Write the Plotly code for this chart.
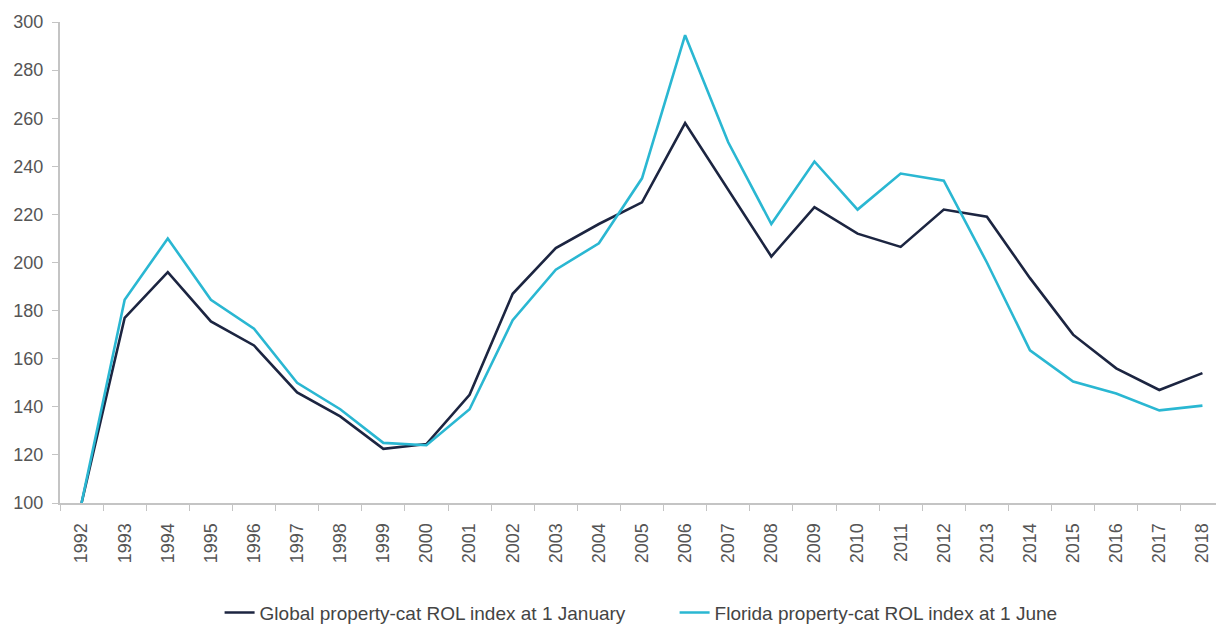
import plotly.graph_objects as go

years = [str(y) for y in range(1992, 2019)]
global_rol = [100, 177, 196, 175.5, 165.5, 146, 136, 122.5, 124.5, 145, 187, 206, 216, 225,
              258, 230, 202.5, 223, 212, 206.5, 222, 219, 193.5, 170, 156, 147, 154]
florida_rol = [100, 184.5, 210, 184.5, 172.5, 150, 139, 125, 124, 139, 176, 197, 208, 235,
               294.5, 250, 216, 242, 222, 237, 234, 200, 163.5, 150.5, 145.5, 138.5, 140.5]
y_ticks = [100, 120, 140, 160, 180, 200, 220, 240, 260, 280, 300]

fig = go.Figure()
fig.add_trace(go.Scatter(x=years, y=global_rol, mode="lines",
                         name="Global property-cat ROL index at 1 January",
                         line=dict(color="#1c2541", width=2.6)))
fig.add_trace(go.Scatter(x=years, y=florida_rol, mode="lines",
                         name="Florida property-cat ROL index at 1 June",
                         line=dict(color="#2ab7d2", width=2.6)))

fig.update_layout(
    width=1216, height=622,
    margin=dict(l=52, r=0, t=14, b=127),
    paper_bgcolor="white", plot_bgcolor="white",
    font=dict(family="Liberation Sans, Arial, sans-serif", size=18, color="#555555"),
    showlegend=True,
    legend=dict(orientation="h", x=0.528, xanchor="center",
                yref="container", y=0.028, yanchor="middle",
                font=dict(size=19, color="#444444"), entrywidth=410, entrywidthmode="pixels"),
)
fig.update_xaxes(type="category", tickangle=-90, showgrid=False, range=[-0.5, 26.5],
                 showline=True, linecolor="#c4c4c4", linewidth=2,
                 ticks="outside", tickson="boundaries", ticklen=6, tickcolor="#c4c4c4",
                 ticklabelstandoff=11,
                 tickfont=dict(size=18, color="#555555"), zeroline=False)
fig.update_yaxes(range=[100, 300], tickvals=y_ticks, showgrid=False,
                 showline=True, linecolor="#c4c4c4", linewidth=2,
                 ticks="outside", ticklen=6, tickcolor="#c4c4c4",
                 ticklabelstandoff=5,
                 tickfont=dict(size=18, color="#555555"), zeroline=False)

fig.write_html("out.html")
